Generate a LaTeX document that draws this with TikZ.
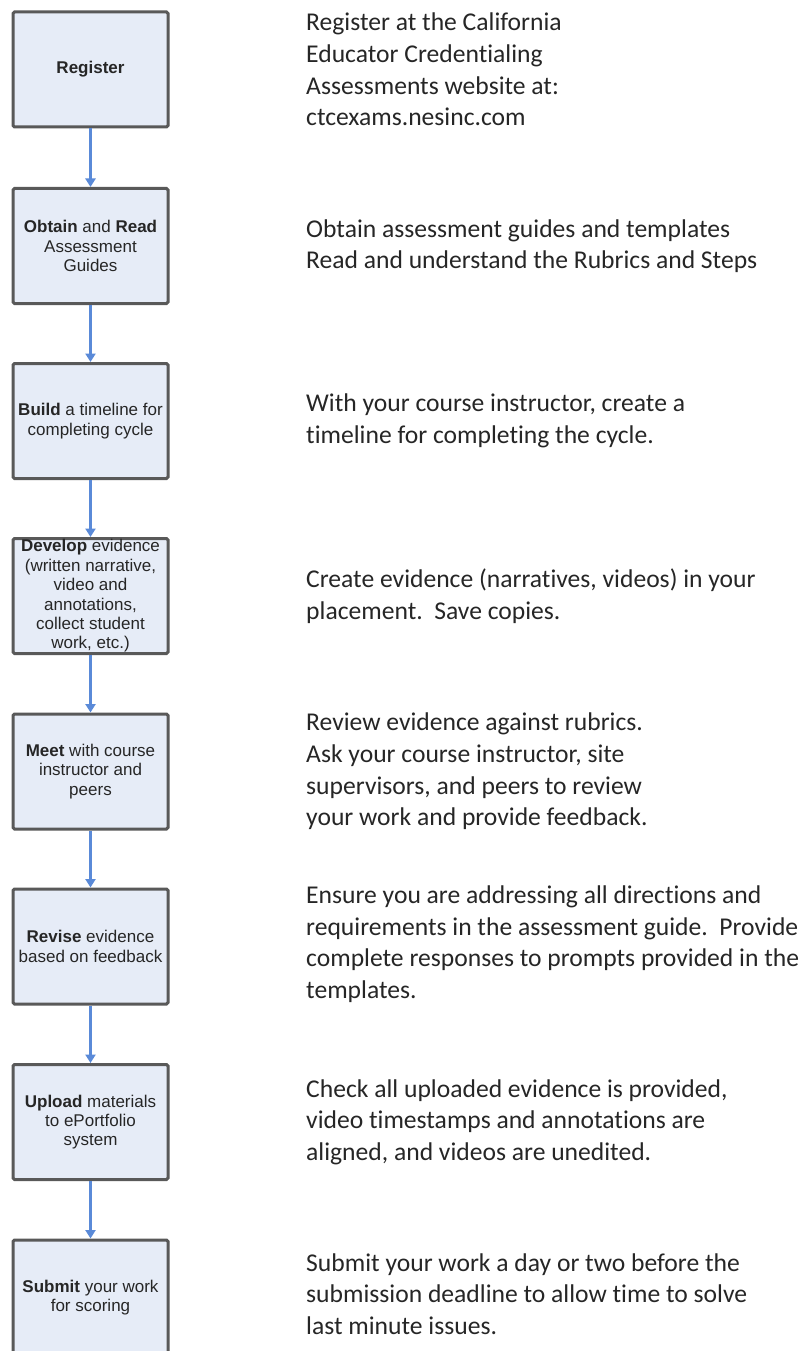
\documentclass[tikz,border=0pt]{standalone}
\usepackage{fontspec}
\setmainfont{Carlito}[Ligatures=NoCommon]
\newfontfamily\boxfont{Liberation Sans}
\usetikzlibrary{arrows.meta}
\definecolor{boxfill}{HTML}{E6ECF7}
\definecolor{boxline}{HTML}{595959}
\definecolor{arrblue}{HTML}{5A8AD8}
\definecolor{txt}{HTML}{262626}
\tikzset{
  stepbox/.style={draw=boxline, line width=3pt, fill=boxfill, rounded corners=1.5pt,
    minimum width=155pt, minimum height=115pt, inner sep=0pt, align=center,
    text=txt, font=\boxfont\fontsize{17}{19.4}\selectfont},
  desc/.style={anchor=west, align=left, inner sep=0pt, text=txt,
    font=\fontsize{25.6}{31.6}\selectfont},
  flow/.style={draw=arrblue, line width=2.4pt, -{Triangle[width=10pt,length=8.5pt]}}
}
\begin{document}
\begin{tikzpicture}[x=1pt,y=-1pt]
\clip (0,0) rectangle (808,1351);
\useasboundingbox (0,0) rectangle (808,1351);
\fill[white] (0,0) rectangle (808,1351);

\node[stepbox] (b1) at (90.5,69.5) {\textbf{Register}};
\node[stepbox] (b2) at (90.5,246) {\textbf{Obtain} and \textbf{Read}\\Assessment\\Guides};
\node[stepbox] (b3) at (90.5,421) {\textbf{Build} a timeline for\\completing cycle};
\node[stepbox] (b4) at (90.5,596) {\textbf{Develop} evidence\\(written narrative,\\video and\\annotations,\\collect student\\work, etc.)};
\node[stepbox] (b5) at (90.5,771.5) {\textbf{Meet} with course\\instructor and\\peers};
\node[stepbox] (b6) at (90.5,946.5) {\textbf{Revise} evidence\\based on feedback};
\node[stepbox] (b7) at (90.5,1122) {\textbf{Upload} materials\\to ePortfolio\\system};
\node[stepbox] (b8) at (90.5,1297.5) {\textbf{Submit} your work\\for scoring};

\draw[flow] (b1.south) -- (b2.north);
\draw[flow] (b2.south) -- (b3.north);
\draw[flow] (b3.south) -- (b4.north);
\draw[flow] (b4.south) -- (b5.north);
\draw[flow] (b5.south) -- (b6.north);
\draw[flow] (b6.south) -- (b7.north);
\draw[flow] (b7.south) -- (b8.north);

\node[desc] (t1) at (306,69.5) {Register at the California\\Educator Credentialing\\Assessments website at:\\ctcexams.nesinc.com};
\node[desc] (t2) at (306,246) {Obtain assessment guides and templates\\Read and understand the Rubrics and Steps};
\node[desc] (t3) at (306,421) {With your course instructor, create a\\timeline for completing the cycle.};
\node[desc] (t4) at (306,596) {Create evidence (narratives, videos) in your\\placement.\ \ Save copies.};
\node[desc] (t5) at (306,771.5) {Review evidence against rubrics.\\Ask your course instructor, site\\supervisors, and peers to review\\your work and provide feedback.};
\node[desc] (t6) at (306,944) {Ensure you are addressing all directions and\\requirements in the assessment guide.\ \ Provide\\complete responses to prompts provided in the\\templates.};
\node[desc] (t7) at (306,1122) {Check all uploaded evidence is provided,\\video timestamps and annotations are\\aligned, and videos are unedited.};
\node[desc] (t8) at (306,1294) {Submit your work a day or two before the\\submission deadline to allow time to solve\\last minute issues.};
\end{tikzpicture}
\end{document}
